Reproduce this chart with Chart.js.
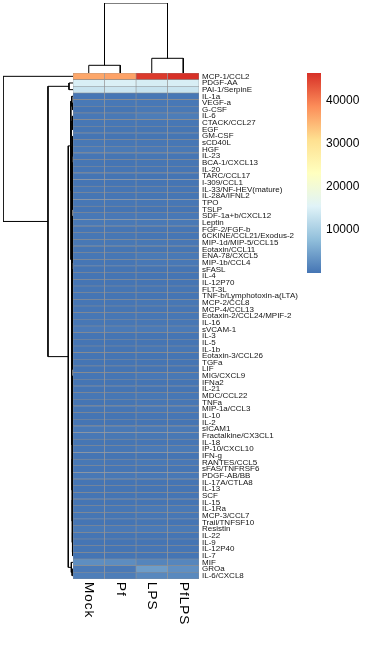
<!DOCTYPE html>
<html><head><meta charset="utf-8">
<script src="https://cdn.jsdelivr.net/npm/chart.js@4.4.1/dist/chart.umd.min.js"></script>
<style>
html,body{margin:0;padding:0;background:#fff;}
#wrap{position:relative;width:370px;height:650px;background:#fff;}
canvas{position:absolute;left:0;top:0;}
</style></head><body>
<div id="wrap">
<canvas id="heat" width="370" height="650"></canvas>
<canvas id="rowd" width="370" height="650"></canvas>
<canvas id="cold" width="370" height="650"></canvas>
<canvas id="leg" width="370" height="650"></canvas>
</div>
<script>
// ---------- data ----------
const rowNames = ['MCP-1/CCL2','PDGF-AA','PAI-1/SerpinE','IL-1a','VEGF-a','G-CSF','IL-6','CTACK/CCL27','EGF','GM-CSF',
'sCD40L','HGF','IL-23','BCA-1/CXCL13','IL-20','TARC/CCL17','I-309/CCL1','IL-33/NF-HEV(mature)','IL-28A/IFNL2','TPO',
'TSLP','SDF-1a+b/CXCL12','Leptin','FGF-2/FGF-b','6CKINE/CCL21/Exodus-2','MIP-1d/MIP-5/CCL15','Eotaxin/CCL11','ENA-78/CXCL5','MIP-1b/CCL4','sFASL',
'IL-4','IL-12P70','FLT-3L','TNF-b/Lymphotoxin-a(LTA)','MCP-2/CCL8','MCP-4/CCL13','Eotaxin-2/CCL24/MPIF-2','IL-16','sVCAM-1','IL-3',
'IL-5','IL-1b','Eotaxin-3/CCL26','TGFa','LIF','MIG/CXCL9','IFNa2','IL-21','MDC/CCL22','TNFa',
'MIP-1a/CCL3','IL-10','IL-2','sICAM1','Fractalkine/CX3CL1','IL-18','IP-10/CXCL10','IFN-g','RANTES/CCL5','sFAS/TNFRSF6',
'PDGF-AB/BB','IL-17A/CTLA8','IL-13','SCF','IL-15','IL-1Ra','MCP-3/CCL7','Trail/TNFSF10','Resistin','IL-22',
'IL-9','IL-12P40','IL-7','MIF','GROa','IL-6/CXCL8'];
const sampleNames = ['Mock','Pf','LPS','PfLPS'];

const mock = [36200,14800,13100,
180,420,90,350,260,120,75,310,540,140,
95,160,70,55,210,130,240,85,380,460,
150,200,330,110,290,170,60,45,80,120,
65,190,140,230,270,610,50,40,100,90,
60,55,150,70,60,260,80,120,75,50,
480,340,130,220,65,310,170,390,50,45,
70,60,250,110,90,520,55,40,95,60,
2600,600,1000];
const pf = [36600,15000,13400,
160,390,110,420,240,130,70,290,510,120,
90,150,65,60,190,140,230,80,400,430,
140,210,310,100,270,190,55,50,75,110,
60,180,130,220,260,590,45,45,90,85,
55,60,170,65,55,240,95,140,80,55,
460,320,120,250,70,300,160,370,55,50,
65,55,270,100,85,500,50,45,90,55,
2500,500,900];
const lps = [45500,14500,12900,
260,380,480,900,250,110,120,280,500,210,
100,150,70,60,200,120,230,90,360,440,
160,190,320,120,520,380,60,50,90,110,
70,260,150,210,250,580,50,45,240,85,
60,60,340,80,70,310,280,390,150,60,
450,330,160,560,90,420,160,370,60,50,
75,70,480,260,95,540,60,45,160,55,
1700,4200,2000];
const pflps = [46300,14700,13200,
240,360,450,850,240,120,110,270,490,190,
95,140,65,55,190,125,220,85,350,420,
150,180,300,115,480,350,55,45,85,105,
65,240,140,200,240,560,45,40,220,80,
55,55,310,75,65,290,260,360,140,55,
430,320,150,520,85,400,150,350,55,45,
70,65,450,240,90,510,55,40,150,50,
1800,2800,2100];
const legendTicks = [10000,20000,30000,40000];

// column dendrogram: [height, left, right], leaves = 1-based column index
const colTree = [100, [11, 1, 2], [21, 3, 4]];
// row dendrogram: [height, left, right], leaves = 1-based row index
const rowTree7to9 = [900, 7, [500, 8, 9]];
const rowTree10to21 = [1200, [600, [300, 10, 11], [350, 12, 13]], [700, [450, 14, 15], [650, [400, 16, 17], [550, [300, 18, 19], [500, 20, 21]]]]];
const rowTree22to45 = [1300, [900, [500, 22, [300, 23, 24]], [700, [400, 25, 26], [600, 27, [350, 28, 29]]]], [1000, [800, [450, 30, 31], [550, [300, 32, 33], 34]], [900, [600, [400, 35, 36], [500, 37, 38]], [700, [450, 39, 40], [650, [350, 41, 42], [500, [300, 43, 44], 45]]]]]];
const rowTree46to73 = [1100, [800, [600, [400, 46, 47], [500, 48, 49]], [700, [450, 50, 51], [550, 52, [300, 53, 54]]]], [900, [750, [500, [350, 55, 56], [450, 57, 58]], [600, [400, 59, 60], [550, 61, 62]]], [850, [650, [450, 63, 64], [500, 65, [350, 66, 67]]], [700, [500, [300, 68, 69], [400, 70, 71]], [450, 72, 73]]]]];
const rowTreeE = [2600, [1400, 4, [600, 5, 6]], [2300, rowTree7to9, [1600, rowTree10to21, [1450, rowTree22to45, rowTree46to73]]]];
const rowTreeF = [1900, 74, [1000, 75, 76]];
const rowTree = [80000, 1, [28600, [4600, 2, 3], [5400, rowTreeE, rowTreeF]]];

// ---------- helpers ----------
const palette = ['#4575B4','#91BFDB','#E0F3F8','#FFFFBF','#FEE090','#FC8D59','#D73027'];
const allVals = mock.concat(pf, lps, pflps);
const vmin = Math.min(...allVals), vmax = Math.max(...allVals);
function hex2rgb(h){return [parseInt(h.slice(1,3),16),parseInt(h.slice(3,5),16),parseInt(h.slice(5,7),16)];}
const palRGB = palette.map(hex2rgb);
function colorFor(v){
  let t = (v - vmin) / (vmax - vmin);
  t = Math.max(0, Math.min(1, t));
  const s = t * (palRGB.length - 1);
  const i = Math.min(Math.floor(s), palRGB.length - 2);
  const f = s - i;
  const a = palRGB[i], b = palRGB[i+1];
  return 'rgb(' + a.map((c,k)=>Math.round(c + (b[k]-c)*f)).join(',') + ')';
}
function dendroPoints(tree, swap){
  const pts = [];
  const P = (pos, h) => swap ? {x:h, y:pos} : {x:pos, y:h};
  function walk(n){
    if (typeof n === 'number') return {pos: n - 0.5, h: 0};
    const l = walk(n[1]), r = walk(n[2]);
    pts.push(P(l.pos, l.h), P(l.pos, n[0]), P(r.pos, n[0]), P(r.pos, r.h), {x:null, y:null});
    return {pos: (l.pos + r.pos) / 2, h: n[0]};
  }
  walk(tree);
  return pts;
}
const FONT = 'Liberation Sans, Arial, Helvetica, sans-serif';
Chart.defaults.animation = false;
Chart.defaults.plugins.legend.display = false;
Chart.defaults.plugins.tooltip.enabled = false;
Chart.defaults.responsive = false;

// ---------- heatmap ----------
const sampleValues = [mock, pf, lps, pflps];
const colLabelPlugin = {
  id: 'colLabels',
  afterDraw(chart){
    const {ctx, chartArea} = chart; const x = chart.scales.x;
    ctx.save();
    ctx.font = '13.5px ' + FONT; ctx.fillStyle = '#000';
    try { ctx.letterSpacing = '1px'; } catch(e) {}
    ctx.textAlign = 'left'; ctx.textBaseline = 'middle';
    sampleNames.forEach((s, i) => {
      ctx.save();
      ctx.translate(x.getPixelForValue(i + 0.5), chartArea.bottom + 3);
      ctx.rotate(Math.PI / 2);
      ctx.fillText(s, 0, 0);
      ctx.restore();
    });
    ctx.restore();
  }
};
new Chart(document.getElementById('heat'), {
  type: 'bar',
  data: {
    labels: rowNames,
    datasets: sampleValues.map((vals, c) => ({
      label: sampleNames[c],
      data: vals.map(() => [c, c + 1]),
      backgroundColor: vals.map(colorFor),
      borderColor: '#8f8f8f',
      borderWidth: 0.6,
      borderSkipped: false,
      grouped: false,
      categoryPercentage: 1,
      barPercentage: 1
    }))
  },
  options: {
    indexAxis: 'y',
    layout: {padding: {left: 73, top: 73, bottom: 71, right: 0}},
    scales: {
      x: {type: 'linear', min: 0, max: 4, display: false},
      y: {
        type: 'category', position: 'right',
        grid: {display: false, drawTicks: false},
        border: {display: false},
        ticks: {autoSkip: false, padding: 3, color: '#141414', font: {family: FONT, size: 8}},
        afterFit: s => { s.width = 171; }
      }
    }
  },
  plugins: [colLabelPlugin]
});

// ---------- row dendrogram ----------
new Chart(document.getElementById('rowd'), {
  type: 'scatter',
  data: {datasets: [{data: dendroPoints(rowTree, true), showLine: true, spanGaps: false,
    borderColor: '#000', borderWidth: 1, pointRadius: 0, tension: 0}]},
  options: {
    layout: {padding: {left: 3, right: 297, top: 73, bottom: 71}},
    scales: {
      x: {type: 'linear', min: 0, max: rowTree[0], reverse: true, display: false},
      y: {type: 'linear', min: 0, max: rowNames.length, reverse: true, display: false}
    }
  }
});

// ---------- column dendrogram ----------
new Chart(document.getElementById('cold'), {
  type: 'scatter',
  data: {datasets: [{data: dendroPoints(colTree, false), showLine: true, spanGaps: false,
    borderColor: '#000', borderWidth: 1, pointRadius: 0, tension: 0}]},
  options: {
    layout: {padding: {left: 73, right: 171, top: 3, bottom: 577}},
    scales: {
      x: {type: 'linear', min: 0, max: sampleNames.length, display: false},
      y: {type: 'linear', min: 0, max: colTree[0], display: false}
    }
  }
});

// ---------- colour legend ----------
new Chart(document.getElementById('leg'), {
  type: 'bar',
  data: {labels: [''], datasets: [{data: [[vmin, vmax]], borderWidth: 0, borderSkipped: false,
    categoryPercentage: 1, barPercentage: 1,
    backgroundColor: (ctx) => {
      const ch = ctx.chart; const y = ch.scales.y;
      if (!ch.chartArea || !y) return palette[0];
      const g = ch.ctx.createLinearGradient(0, y.getPixelForValue(vmin), 0, y.getPixelForValue(vmax));
      palette.forEach((c, i) => g.addColorStop(i / (palette.length - 1), c));
      return g;
    }}]},
  options: {
    layout: {padding: {left: 307, top: 73, bottom: 377, right: 0}},
    scales: {
      x: {display: false},
      y: {
        type: 'linear', min: vmin, max: vmax, position: 'right',
        grid: {display: false, drawTicks: false}, border: {display: false},
        afterBuildTicks: s => { s.ticks = legendTicks.map(v => ({value: v})); },
        ticks: {padding: 5, color: '#000', font: {family: FONT, size: 12}, callback: v => String(v)},
        afterFit: s => { s.width = 49; }
      }
    }
  }
});
</script>
</body></html>
